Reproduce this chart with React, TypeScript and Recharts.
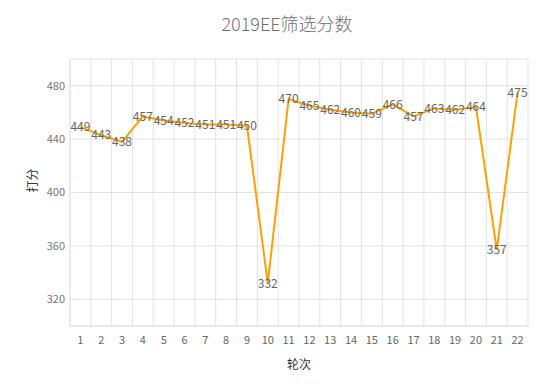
import { LineChart, Line, XAxis, YAxis, CartesianGrid, LabelList } from "recharts";

const rounds = [1, 2, 3, 4, 5, 6, 7, 8, 9, 10, 11, 12, 13, 14, 15, 16, 17, 18, 19, 20, 21, 22];
const scores = [449, 443, 438, 457, 454, 452, 451, 451, 450, 332, 470, 465, 462, 460, 459, 466, 457, 463, 462, 464, 357, 475];
const yTicks = [320, 360, 400, 440, 480];
// band edges between rounds, used for the vertical grid
const bandEdges = [0.5, ...rounds.map((r) => r + 0.5)];

const data = rounds.map((r, i) => ({ round: r, score: scores[i] }));

const FONT = "'Noto Sans CJK SC', 'Noto Sans', sans-serif";
const GRID = "#e3e3e3";

export default function App() {
  return (
    <div style={{ position: "absolute", left: 0, top: 0, width: 560, height: 386, fontFamily: FONT }}>
      <div
        style={{
          position: "absolute",
          top: 10,
          left: 0,
          width: 574,
          textAlign: "center",
          fontSize: 18,
          fontWeight: 300,
          color: "#707070",
        }}
      >
        2019EE筛选分数
      </div>
      <LineChart width={560} height={386} data={data} margin={{ top: 59, right: 32, left: 0, bottom: 0 }}>
        <CartesianGrid
          stroke={GRID}
          verticalCoordinatesGenerator={({ xAxis, offset }: any) =>
            bandEdges.map((b) =>
              xAxis && typeof xAxis.scale === "function"
                ? xAxis.scale(b)
                : offset.left + ((b - 0.5) * offset.width) / rounds.length
            )
          }
        />
        <XAxis
          dataKey="round"
          type="number"
          domain={[0.5, 22.5]}
          ticks={rounds}
          interval={0}
          height={60}
          tickLine={false}
          axisLine={{ stroke: GRID }}
          tick={{ fontSize: 11, fill: "#666", fontFamily: FONT }}
          tickMargin={4}
          label={{ value: "轮次", position: "insideBottom", offset: 17, fontSize: 12, fill: "#333", fontFamily: FONT }}
        />
        <YAxis
          domain={[300, 500]}
          ticks={yTicks}
          width={70}
          tickLine={false}
          axisLine={{ stroke: GRID }}
          tickSize={3}
          tickMargin={2}
          tick={{ fontSize: 11, fill: "#777", fontFamily: FONT }}
          label={{ value: "打分", angle: -90, position: "insideLeft", offset: 33, fontSize: 12, fill: "#333", fontFamily: FONT }}
        />
        <Line
          dataKey="score"
          stroke="#ffa000"
          strokeWidth={2}
          dot={false}
          isAnimationActive={false}
        >
          <LabelList dataKey="score" position="center" fontSize={12} fill="#666" fontFamily={FONT} />
        </Line>
      </LineChart>
    </div>
  );
}
